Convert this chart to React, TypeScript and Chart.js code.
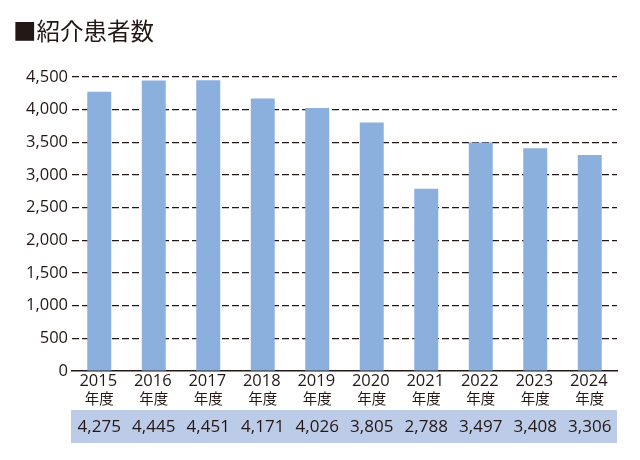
import React, { useEffect, useRef } from "react";
import { Chart, registerables } from "chart.js";

Chart.register(...registerables);

const title = "■紹介患者数";
const years = ["2015", "2016", "2017", "2018", "2019", "2020", "2021", "2022", "2023", "2024"];
const yearSuffix = "年度";
const values = [4275, 4445, 4451, 4171, 4026, 3805, 2788, 3497, 3408, 3306];
const yMax = 4500;
const yStep = 500;

const NUM_FONT = "'Open Sans', 'Noto Sans', sans-serif";
const CJK_FONT = "'Noto Sans CJK JP', 'Noto Sans', sans-serif";
const TEXT = "#231815";

const overlayPlugin = {
  id: "overlay",
  afterDraw(chart: any) {
    const { ctx, chartArea } = chart;
    const xs = chart.scales.x;
    ctx.save();
    // title
    ctx.fillStyle = TEXT;
    ctx.font = `23.5px ${CJK_FONT}`;
    ctx.textBaseline = "middle";
    ctx.textAlign = "left";
    ctx.fillText(title, 13, 31);
    // x labels (two lines)
    ctx.textAlign = "center";
    years.forEach((y, i) => {
      const x = xs.getPixelForValue(i);
      ctx.font = `16.5px ${NUM_FONT}`;
      ctx.fillText(y, x - 1, 381.5);
      ctx.font = `14.5px ${CJK_FONT}`;
      ctx.fillText(yearSuffix, x, 398);
    });
    // table row
    const top = 410;
    const h = 33;
    ctx.fillStyle = "#BCCBE7";
    ctx.fillRect(chartArea.left - 1, top, chartArea.right - chartArea.left + 1, h);
    ctx.fillStyle = TEXT;
    ctx.font = `17px ${NUM_FONT}`;
    values.forEach((v, i) => {
      ctx.fillText(v.toLocaleString("en-US"), xs.getPixelForValue(i), top + h / 2 + 0.5);
    });
    ctx.restore();
  },
};

export default function App() {
  const ref = useRef<HTMLCanvasElement | null>(null);
  useEffect(() => {
    const canvas = ref.current!;
    const chart = new Chart(canvas, {
      type: "bar",
      data: {
        labels: years,
        datasets: [
          {
            data: values,
            backgroundColor: "#8BB0DD",
            barPercentage: 0.44,
            categoryPercentage: 1,
          },
        ],
      },
      options: {
        animation: false,
        responsive: false,
        layout: { padding: { left: 0, right: 23, top: 77, bottom: 0 } },
        plugins: { legend: { display: false }, tooltip: { enabled: false } },
        scales: {
          x: {
            grid: { display: false, drawTicks: false },
            border: { display: true, color: "#231815", width: 1.5 },
            ticks: { display: false },
            afterFit(scale: any) {
              scale.height = 460 - 371;
            },
          },
          y: {
            min: 0,
            max: yMax,
            ticks: {
              stepSize: yStep,
              color: TEXT,
              font: { family: NUM_FONT, size: 16.5 },
              padding: 4,
              callback: (v: any) => Number(v).toLocaleString("en-US"),
            },
            grid: {
              color: (c: any) => (c.tick && c.tick.value === 0 ? "rgba(0,0,0,0)" : "#231815"),
              lineWidth: 1.2,
              drawTicks: false,
            },
            border: { display: false, dash: [7, 3] },
            afterFit(scale: any) {
              scale.width = 72;
            },
          },
        },
      },
      plugins: [overlayPlugin],
    });
    return () => chart.destroy();
  }, []);
  return (
    <div style={{ position: "fixed", left: 0, top: 0, width: 640, height: 460, background: "#fff" }}>
      <canvas ref={ref} width={640} height={460} style={{ width: 640, height: 460 }} />
    </div>
  );
}
